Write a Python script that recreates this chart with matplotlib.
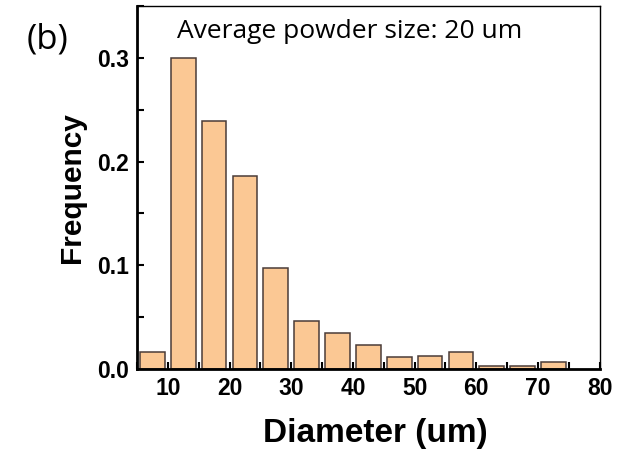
import matplotlib
matplotlib.use("Agg")
import matplotlib.pyplot as plt
from matplotlib.ticker import MultipleLocator

# particle size histogram, 5 um bins
bin_centers = [7.5, 12.5, 17.5, 22.5, 27.5, 32.5, 37.5, 42.5, 47.5, 52.5, 57.5, 62.5, 67.5, 72.5]
frequency = [0.016, 0.300, 0.239, 0.186, 0.097, 0.046, 0.035, 0.023, 0.0115, 0.0128, 0.016, 0.003, 0.003, 0.0067]
x_ticks = [10, 20, 30, 40, 50, 60, 70, 80]
y_ticks = [0.0, 0.1, 0.2, 0.3]

fig = plt.figure(figsize=(6.38, 4.51), dpi=100)
ax = fig.add_axes([0.2147, 0.1818, 0.7253, 0.8049])

ax.bar(bin_centers, frequency, width=4.0, color="#fbc894",
       edgecolor="#4a3c38", linewidth=1.1, zorder=2)

ax.set_xlim(5, 80)
ax.set_ylim(0, 0.35)
ax.set_xticks(x_ticks)
ax.set_yticks(y_ticks)
ax.set_yticklabels([f"{v:.1f}" for v in y_ticks])
ax.xaxis.set_minor_locator(MultipleLocator(5))
ax.yaxis.set_minor_locator(MultipleLocator(0.05))

for lbl in ax.get_xticklabels() + ax.get_yticklabels():
    lbl.set_fontfamily("Liberation Sans")
    lbl.set_fontweight("bold")
    lbl.set_fontsize(16.5)

ax.tick_params(which="both", direction="in", top=False, right=False, width=1.5)
ax.tick_params(which="major", length=5, pad=6)
ax.tick_params(which="minor", length=5)

for side in ("left", "bottom"):
    ax.spines[side].set_linewidth(2.0)
for side in ("top", "right"):
    ax.spines[side].set_linewidth(1.0)

ax.set_xlabel("Diameter (um)", fontfamily="Liberation Sans", fontweight="bold",
              fontsize=24, labelpad=9)
ax.xaxis.set_label_coords(0.514, -0.135)
ax.set_ylabel("Frequency", fontfamily="Liberation Sans", fontweight="bold",
              fontsize=21.5, labelpad=8)

ax.text(0.086, 0.912, "Average powder size: 20 um", transform=ax.transAxes,
        fontfamily="Open Sans", fontsize=19, ha="left", va="baseline")
fig.text(0.075, 0.913, "(b)", fontfamily="Open Sans", fontsize=25, ha="center", va="center")

fig.savefig("out.png", dpi=100)
